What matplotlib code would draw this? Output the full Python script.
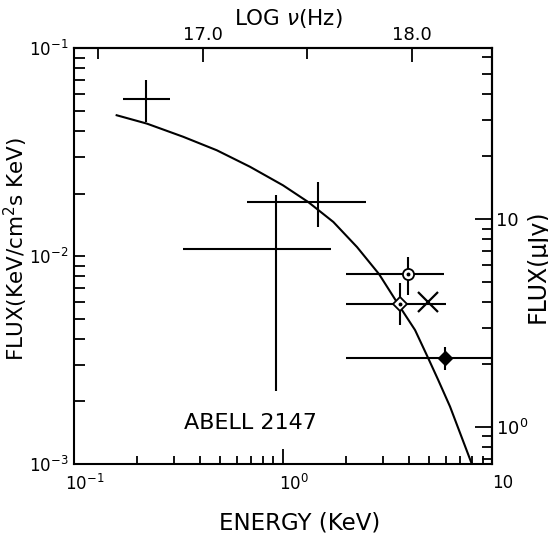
import matplotlib
matplotlib.use('Agg')
import matplotlib.pyplot as plt
import matplotlib.transforms as mtransforms
import numpy as np
from matplotlib.ticker import FixedLocator, FuncFormatter, LogLocator, NullFormatter

# plain crosses
cross_e = [0.222, 1.47, 0.93]
cross_e_lo = [0.171, 0.676, 0.331]
cross_e_hi = [0.287, 2.50, 1.69]
cross_f = [0.057, 0.0182, 0.0108]
cross_f_lo = [0.044, 0.0138, 0.00224]
cross_f_hi = [0.070, 0.0227, 0.0197]

# open circle with dot
circ_e, circ_e_lo, circ_e_hi = [3.97], [1.99], [5.90]
circ_f, circ_f_lo, circ_f_hi = [0.00817], [0.00649], [0.00989]

# open diamond with dot
diam_e, diam_e_lo, diam_e_hi = [3.63], [1.99], [6.05]
diam_f, diam_f_lo, diam_f_hi = [0.00588], [0.00466], [0.00744]

# X point
x_e = [4.95]
x_f = [0.00603]

# filled diamond
fill_e, fill_e_lo, fill_e_hi = [5.97], [2.01], [10.0]
fill_f, fill_f_lo, fill_f_hi = [0.00324], [0.00283], [0.00365]

# model curve
model_e = [0.160, 0.223, 0.333, 0.482, 0.695, 1.00, 1.32, 1.74, 2.26, 2.88,
           3.55, 4.28, 4.94, 5.52, 6.29, 8.0]
model_f = [0.0476, 0.0434, 0.0375, 0.0323, 0.0269, 0.0219, 0.0182, 0.0146,
           0.01105, 0.00819, 0.00588, 0.00441, 0.00324, 0.00254, 0.00189, 0.00100]

LOGNU_1KEV = 17.3834   # log10 of nu (Hz) at 1 keV
MUJY_PER_UNIT = 663.0  # 1 keV/cm2 s keV in micro Jansky

plt.rcParams['font.family'] = 'DejaVu Sans'
plt.rcParams['mathtext.fontset'] = 'dejavusans'

fig = plt.figure(figsize=(5.48, 5.40), dpi=100)
ax = fig.add_axes([0.135, 0.1407, 0.763, 0.770])
ax.set_xscale('log')
ax.set_yscale('log')
ax.set_xlim(0.1, 10)
ax.set_ylim(1e-3, 1e-1)


def draw_err(e, elo, ehi, f, flo, fhi):
    e = np.array(e)
    f = np.array(f)
    xerr = [e - np.array(elo), np.array(ehi) - e]
    yerr = [f - np.array(flo), np.array(fhi) - f]
    ax.errorbar(e, f, xerr=xerr, yerr=yerr, fmt='none', ecolor='k',
                elinewidth=1.5, capsize=0, zorder=2)


draw_err(cross_e, cross_e_lo, cross_e_hi, cross_f, cross_f_lo, cross_f_hi)
draw_err(circ_e, circ_e_lo, circ_e_hi, circ_f, circ_f_lo, circ_f_hi)
draw_err(diam_e, diam_e_lo, diam_e_hi, diam_f, diam_f_lo, diam_f_hi)
draw_err(fill_e, fill_e_lo, fill_e_hi, fill_f, fill_f_lo, fill_f_hi)

ax.plot(model_e, model_f, color='k', lw=1.5, zorder=1)

ax.plot(circ_e, circ_f, 'o', ms=8, mfc='white', mec='k', mew=1.3, zorder=3)
ax.plot(circ_e, circ_f, 'o', ms=1.8, color='k', zorder=4)
ax.plot(diam_e, diam_f, 'D', ms=7, mfc='white', mec='k', mew=1.3, zorder=3)
ax.plot(diam_e, diam_f, 'o', ms=1.8, color='k', zorder=4)
ax.plot(x_e, x_f, 'x', ms=15, mew=1.6, color='k', zorder=3)
ax.plot(fill_e, fill_f, 'D', ms=7, color='k', zorder=3)

for s in ax.spines.values():
    s.set_linewidth(1.5)

# bottom axis
ax.xaxis.set_major_locator(FixedLocator([0.1, 1, 10]))
ax.xaxis.set_major_formatter(FuncFormatter(
    lambda v, p: {0.1: '$10^{-1}$', 1: '$10^{0}$', 10: '10'}.get(round(v, 3), '')))
ax.xaxis.set_minor_locator(LogLocator(base=10, subs=np.arange(2, 10)))
ax.xaxis.set_minor_formatter(NullFormatter())
ax.tick_params(axis='x', which='major', direction='in', length=11, width=1.3,
               labelsize=12, pad=7, top=False)
ax.tick_params(axis='x', which='minor', direction='in', length=6, width=1.3, top=False)
# labels in the original sit a little right of their ticks
shift = mtransforms.ScaledTranslation(0.11, 0, fig.dpi_scale_trans)
for lab in ax.get_xticklabels():
    lab.set_transform(lab.get_transform() + shift)

# left axis
ax.yaxis.set_minor_locator(LogLocator(base=10, subs=np.arange(2, 10)))
ax.yaxis.set_minor_formatter(NullFormatter())
ax.tick_params(axis='y', which='both', direction='in', length=8, width=1.3,
               labelsize=12, pad=4, right=False)

# top axis: log nu
top = ax.secondary_xaxis('top', functions=(
    lambda e: np.log10(np.maximum(e, 1e-30)) + LOGNU_1KEV,
    lambda v: 10 ** (v - LOGNU_1KEV)))
top.xaxis.set_major_locator(FixedLocator([17.0, 18.0]))
top.xaxis.set_major_formatter(FuncFormatter(lambda v, p: '%.1f' % v))
top.xaxis.set_minor_locator(FixedLocator([16.5, 17.5]))
top.xaxis.set_minor_formatter(NullFormatter())
top.tick_params(which='major', direction='in', length=10, width=1.3, labelsize=13, pad=3)
top.tick_params(which='minor', direction='in', length=8, width=1.3)
top.spines['top'].set_linewidth(1.5)

# right axis: micro Jy
right = ax.secondary_yaxis('right', functions=(
    lambda f: f * MUJY_PER_UNIT, lambda m: m / MUJY_PER_UNIT))
right.yaxis.set_major_locator(FixedLocator([1, 10]))
right.yaxis.set_major_formatter(FuncFormatter(
    lambda v, p: {1: '$10^{0}$', 10: '10'}.get(round(v), '')))
right.yaxis.set_minor_locator(LogLocator(base=10, subs=np.arange(2, 10)))
right.yaxis.set_minor_formatter(NullFormatter())
right.tick_params(which='major', direction='in', length=12, width=1.3, labelsize=13, pad=3)
right.tick_params(which='minor', direction='in', length=7, width=1.3)
right.spines['right'].set_linewidth(1.5)

# labels
ax.text(0.512, 1.072, r'LOG $\nu$(Hz)', transform=ax.transAxes,
        ha='center', va='center', fontsize=15.5)
ax.text(0.54, -0.142, 'ENERGY (KeV)', transform=ax.transAxes,
        ha='center', va='center', fontsize=16.5)
ax.text(-0.138, 0.518, 'FLUX(KeV/cm$^2$s KeV)', transform=ax.transAxes,
        ha='center', va='center', rotation=90, fontsize=15.5)
ax.text(1.108, 0.476, 'FLUX(μJy)', transform=ax.transAxes,
        ha='center', va='center', rotation=90, fontsize=17)
ax.text(0.421, 0.0986, 'ABELL 2147', transform=ax.transAxes,
        ha='center', va='center', fontsize=16)

fig.savefig('out.png', dpi=100)
